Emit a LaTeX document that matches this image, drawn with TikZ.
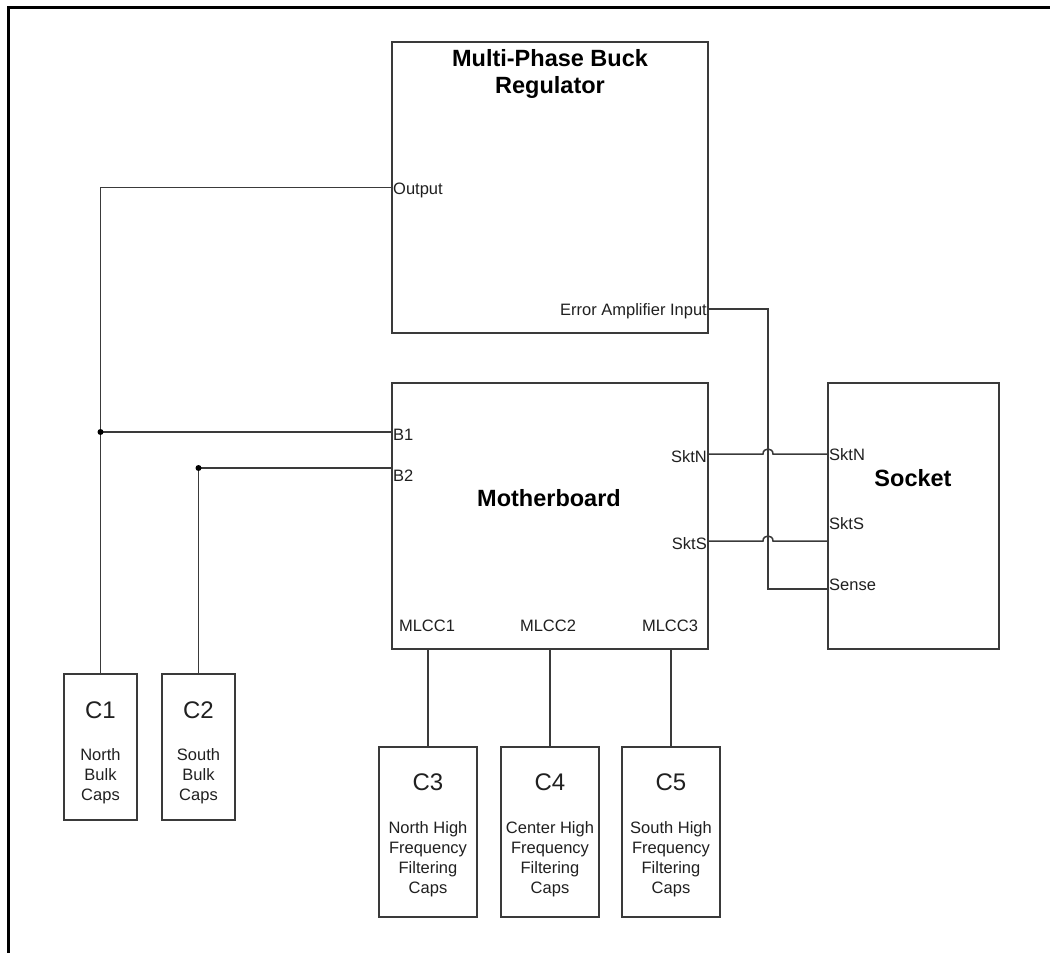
\documentclass[tikz,border=0pt]{standalone}
\usepackage{fontspec}
\setmainfont{Liberation Sans}
\definecolor{linegray}{HTML}{3A3A3A}
\definecolor{txtgray}{HTML}{202020}
\begin{document}
\begin{tikzpicture}[x=1pt,y=-1pt,
  box/.style={draw=linegray, line width=1.5pt, inner sep=0pt, fill=white},
  wire/.style={draw=linegray, line width=1.5pt},
  port/.style={font=\fontsize{16.5}{20}\selectfont, text=txtgray, inner sep=1pt},
  title/.style={font=\fontsize{23.5}{27}\selectfont\bfseries, text=black, inner sep=0pt, align=center},
  cname/.style={font=\fontsize{24}{28}\selectfont, text=txtgray, inner sep=0pt},
  cdesc/.style={font=\fontsize{16.5}{20}\selectfont, text=txtgray, inner sep=0pt, align=center},
  dot/.style={fill=black}]
\useasboundingbox (0,0) rectangle (1050,953);
% frame
\draw[line width=3pt, line cap=rect] (8.5,953) -- (8.5,7) -- (1050,7);

% boxes
\node[box, minimum width=316pt, minimum height=291pt] (reg) at (550,187.5) {};
\node[box, minimum width=316pt, minimum height=266pt] (mb) at (550,516) {};
\node[box, minimum width=171pt, minimum height=266pt] (sock) at (913.5,516) {};
\node[box, minimum width=73pt, minimum height=146pt] (c1) at (100.5,747) {};
\node[box, minimum width=73pt, minimum height=146pt] (c2) at (198.5,747) {};
\node[box, minimum width=98pt, minimum height=170pt] (c3) at (428,832) {};
\node[box, minimum width=98pt, minimum height=170pt] (c4) at (550,832) {};
\node[box, minimum width=98pt, minimum height=170pt] (c5) at (671,832) {};

% titles
\node[title, anchor=north] (regt) at (550,49) {Multi-Phase Buck\\Regulator};
\node[title, anchor=base] (mbt) at (549,506) {Motherboard};
\node[title, anchor=base] (sockt) at (913,486) {Socket};

% capacitor texts
\node[cname, anchor=base] (c1n) at (100.5,718) {C1};
\node[cname, anchor=base] (c2n) at (198.5,718) {C2};
\node[cdesc, anchor=north] (c1d) at (100.5,748) {North\\Bulk\\Caps};
\node[cdesc, anchor=north] (c2d) at (198.5,748) {South\\Bulk\\Caps};
\node[cname, anchor=base] (c3n) at (428,790) {C3};
\node[cname, anchor=base] (c4n) at (550,790) {C4};
\node[cname, anchor=base] (c5n) at (671,790) {C5};
\node[cdesc, anchor=north] (c3d) at (428,821) {North High\\Frequency\\Filtering\\Caps};
\node[cdesc, anchor=north] (c4d) at (550,821) {Center High\\Frequency\\Filtering\\Caps};
\node[cdesc, anchor=north] (c5d) at (671,821) {South High\\Frequency\\Filtering\\Caps};

% port labels
\node[port, anchor=base west] (lout) at (392,194) {Output};
\node[port, anchor=base east] (lea) at (708,315) {Error Amplifier Input};
\node[port, anchor=base west] (lb1) at (392,440) {B1};
\node[port, anchor=base west] (lb2) at (392,481) {B2};
\node[port, anchor=base east] (lsn) at (708,462) {SktN};
\node[port, anchor=base east] (lss) at (708,549) {SktS};
\node[port, anchor=base] (lm1) at (427,631) {MLCC1};
\node[port, anchor=base] (lm2) at (548,631) {MLCC2};
\node[port, anchor=base] (lm3) at (670,631) {MLCC3};
\node[port, anchor=base west] (rsn) at (828,460) {SktN};
\node[port, anchor=base west] (rss) at (828,529) {SktS};
\node[port, anchor=base west] (rse) at (828,590) {Sense};

% connection points
\coordinate (j1) at (100.5,432);
\coordinate (j2) at (198.5,468);
\coordinate (b1) at (392,432);
\coordinate (b2) at (392,468);
\coordinate (ea) at (708,309);
\coordinate (vt) at (768,309);
\coordinate (se) at (828,589);
\coordinate (sn1) at (708,454);
\coordinate (sn2) at (828,454);
\coordinate (ss1) at (708,541);
\coordinate (ss2) at (828,541);

% wires
\draw[wire] (reg.west) -| (j1) -- (c1.north);
\draw[wire] (j1) -- (b1);
\draw[wire] (j2) -- (b2);
\draw[wire] (j2) -- (c2.north);
\fill[dot] (j1) circle (3pt);
\fill[dot] (j2) circle (3pt);
\draw[wire] (c3.north |- mb.south) -- (c3.north);
\draw[wire] (c4.north |- mb.south) -- (c4.north);
\draw[wire] (c5.north |- mb.south) -- (c5.north);
\draw[wire] (ea) -- (vt) |- (se);
\draw[wire] (sn1) -- (763,454) .. controls (763,447.3) and (773,447.3) .. (773,454) -- (sn2);
\draw[wire] (ss1) -- (763,541) .. controls (763,534.3) and (773,534.3) .. (773,541) -- (ss2);
\end{tikzpicture}
\end{document}
